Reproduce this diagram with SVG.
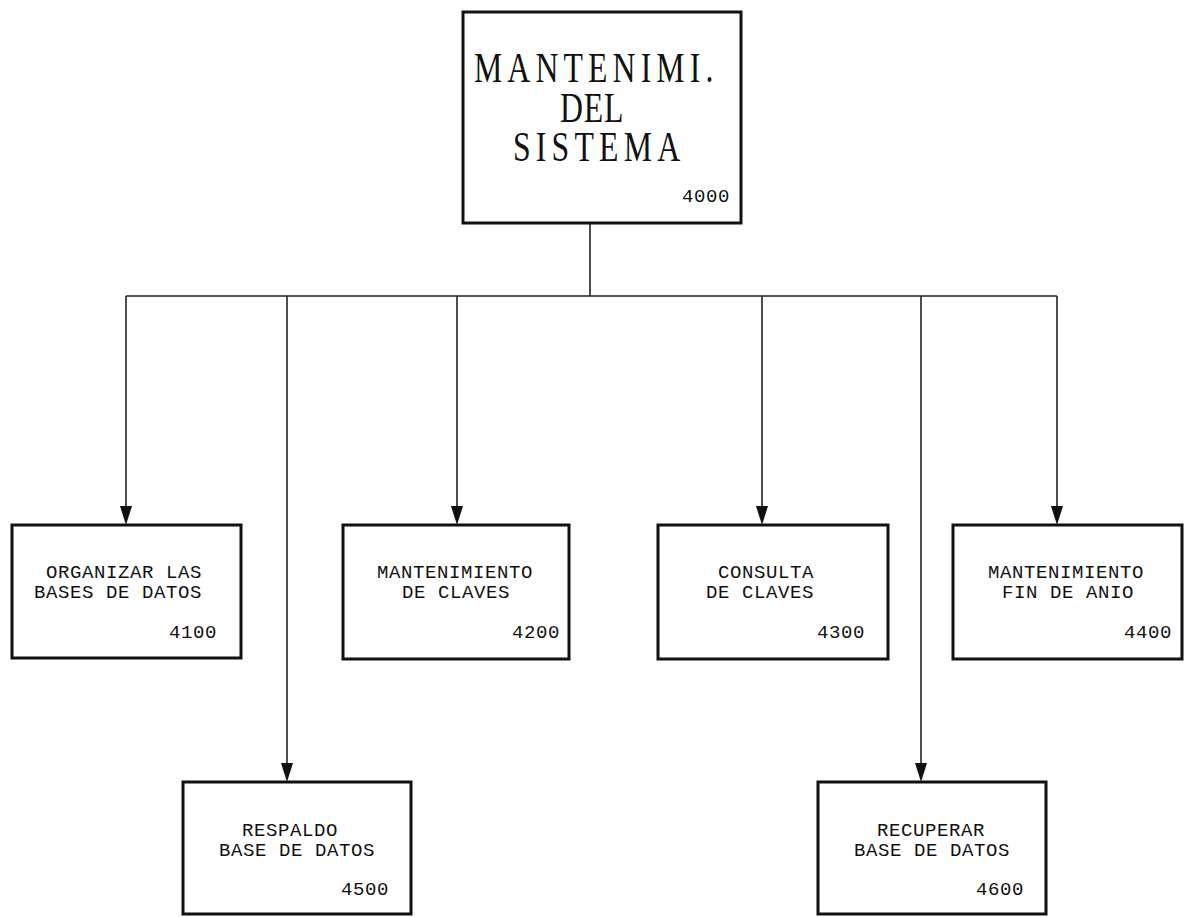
<svg xmlns="http://www.w3.org/2000/svg" width="1185" height="917" viewBox="0 0 1185 917">
<style>
.box{fill:#fff;stroke:#111;stroke-width:3}
.ln{fill:none;stroke:#222;stroke-width:1.6}
.t{font-family:"Liberation Mono","DejaVu Sans Mono",monospace;font-size:19px;letter-spacing:0.6px;fill:#111}
.big{font-family:"Liberation Serif","DejaVu Serif",serif;font-size:43px;fill:#111}
</style>
<rect width="1185" height="917" fill="#fff"/>
<g id="connectors">
<path class="ln" d="M590,224 V296 M126,296 H1057"/>
<path class="ln" d="M126,296 V507"/>
<path class="ln" d="M287,296 V764"/>
<path class="ln" d="M457,296 V507"/>
<path class="ln" d="M762,296 V507"/>
<path class="ln" d="M921,296 V764"/>
<path class="ln" d="M1057,296 V507"/>
<g fill="#111">
<path d="M120,506 L132,506 L126,525 Z"/>
<path d="M281,763 L293,763 L287,782 Z"/>
<path d="M451,506 L463,506 L457,525 Z"/>
<path d="M756,506 L768,506 L762,525 Z"/>
<path d="M915,763 L927,763 L921,782 Z"/>
<path d="M1051,506 L1063,506 L1057,525 Z"/>
</g>
</g>
<g id="n4000">
<rect class="box" x="463" y="12" width="278" height="211"/>
<text class="big" transform="scale(0.74,1)"><tspan x="640.5" y="82" style="letter-spacing:6.9px">MANTENIMI.</tspan><tspan x="756.8" y="122" style="letter-spacing:1px">DEL</tspan><tspan x="693.2" y="161" style="letter-spacing:7px">SISTEMA</tspan></text>
<text class="t" x="682" y="202">4000</text>
</g>
<g id="n4100">
<rect class="box" x="12" y="525" width="229" height="133"/>
<text class="t" x="46" y="578">ORGANIZAR LAS</text>
<text class="t" x="34" y="598">BASES DE DATOS</text>
<text class="t" x="169" y="638">4100</text>
</g>
<g id="n4200">
<rect class="box" x="343" y="525" width="226" height="134"/>
<text class="t" x="377" y="578">MANTENIMIENTO</text>
<text class="t" x="402" y="598">DE CLAVES</text>
<text class="t" x="512" y="638">4200</text>
</g>
<g id="n4300">
<rect class="box" x="658" y="525" width="230" height="134"/>
<text class="t" x="718" y="578">CONSULTA</text>
<text class="t" x="706" y="598">DE CLAVES</text>
<text class="t" x="817" y="638">4300</text>
</g>
<g id="n4400">
<rect class="box" x="953" y="525" width="229" height="134"/>
<text class="t" x="988" y="578">MANTENIMIENTO</text>
<text class="t" x="1002" y="598">FIN DE ANIO</text>
<text class="t" x="1124" y="638">4400</text>
</g>
<g id="n4500">
<rect class="box" x="183" y="782" width="228" height="132"/>
<text class="t" x="242" y="836">RESPALDO</text>
<text class="t" x="219" y="856">BASE DE DATOS</text>
<text class="t" x="341" y="895">4500</text>
</g>
<g id="n4600">
<rect class="box" x="818" y="782" width="228" height="132"/>
<text class="t" x="877" y="836">RECUPERAR</text>
<text class="t" x="854" y="856">BASE DE DATOS</text>
<text class="t" x="976" y="895">4600</text>
</g>
</svg>
